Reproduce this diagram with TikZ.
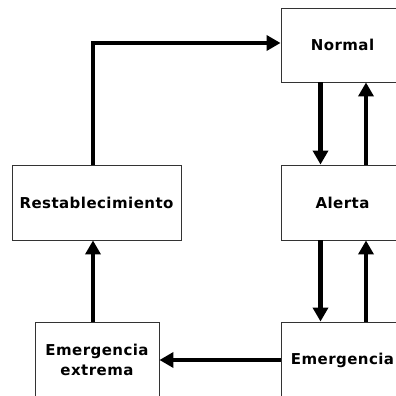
\documentclass[tikz,border=0pt]{standalone}
\usepackage{fontspec}
\newfontfamily\lblfont{DejaVu Sans}[LetterSpace=3]
\usetikzlibrary{arrows.meta}
\tikzset{
  box/.style={draw=black!80, line width=0.9pt, fill=white, inner sep=0pt,
    font=\lblfont\bfseries\fontsize{15}{20}\selectfont, align=center},
  arr/.style={line width=4.5pt, -{Triangle[length=14pt,width=15pt]}}
}
\begin{document}
\begin{tikzpicture}[x=1pt,y=1pt]
\useasboundingbox (0,0) rectangle (396,396);
\fill[white] (0,0) rectangle (396,396);
\node[box, minimum width=123pt, minimum height=74pt] (normal) at (342.5,351) {Normal};
\node[box, minimum width=123pt, minimum height=75pt] (alerta) at (342.5,193.5) {Alerta};
\node[box, minimum width=123pt, minimum height=76pt] (emer) at (342.5,36) {Emergencia};
\node[box, minimum width=169pt, minimum height=75pt] (rest) at (96.5,193.5) {Restablecimiento};
\node[box, minimum width=124pt, minimum height=76pt] (ext) at (97,36) {Emergencia\\extrema};
\draw[arr] ([xshift=-22pt]normal.south) -- ([xshift=-22pt]alerta.north);
\draw[arr] ([xshift=23.5pt]alerta.north) -- ([xshift=23.5pt]normal.south);
\draw[arr] ([xshift=-22pt]alerta.south) -- ([xshift=-22pt]emer.north);
\draw[arr] ([xshift=23.5pt]emer.north) -- ([xshift=23.5pt]alerta.south);
\draw[arr] (emer.west) -- (ext.east);
\draw[arr] ([xshift=-4pt]ext.north) -- ([xshift=-3.5pt]rest.south);
\draw[arr] ([xshift=-3.5pt]rest.north) |- ([yshift=2pt]normal.west);
\end{tikzpicture}
\end{document}
